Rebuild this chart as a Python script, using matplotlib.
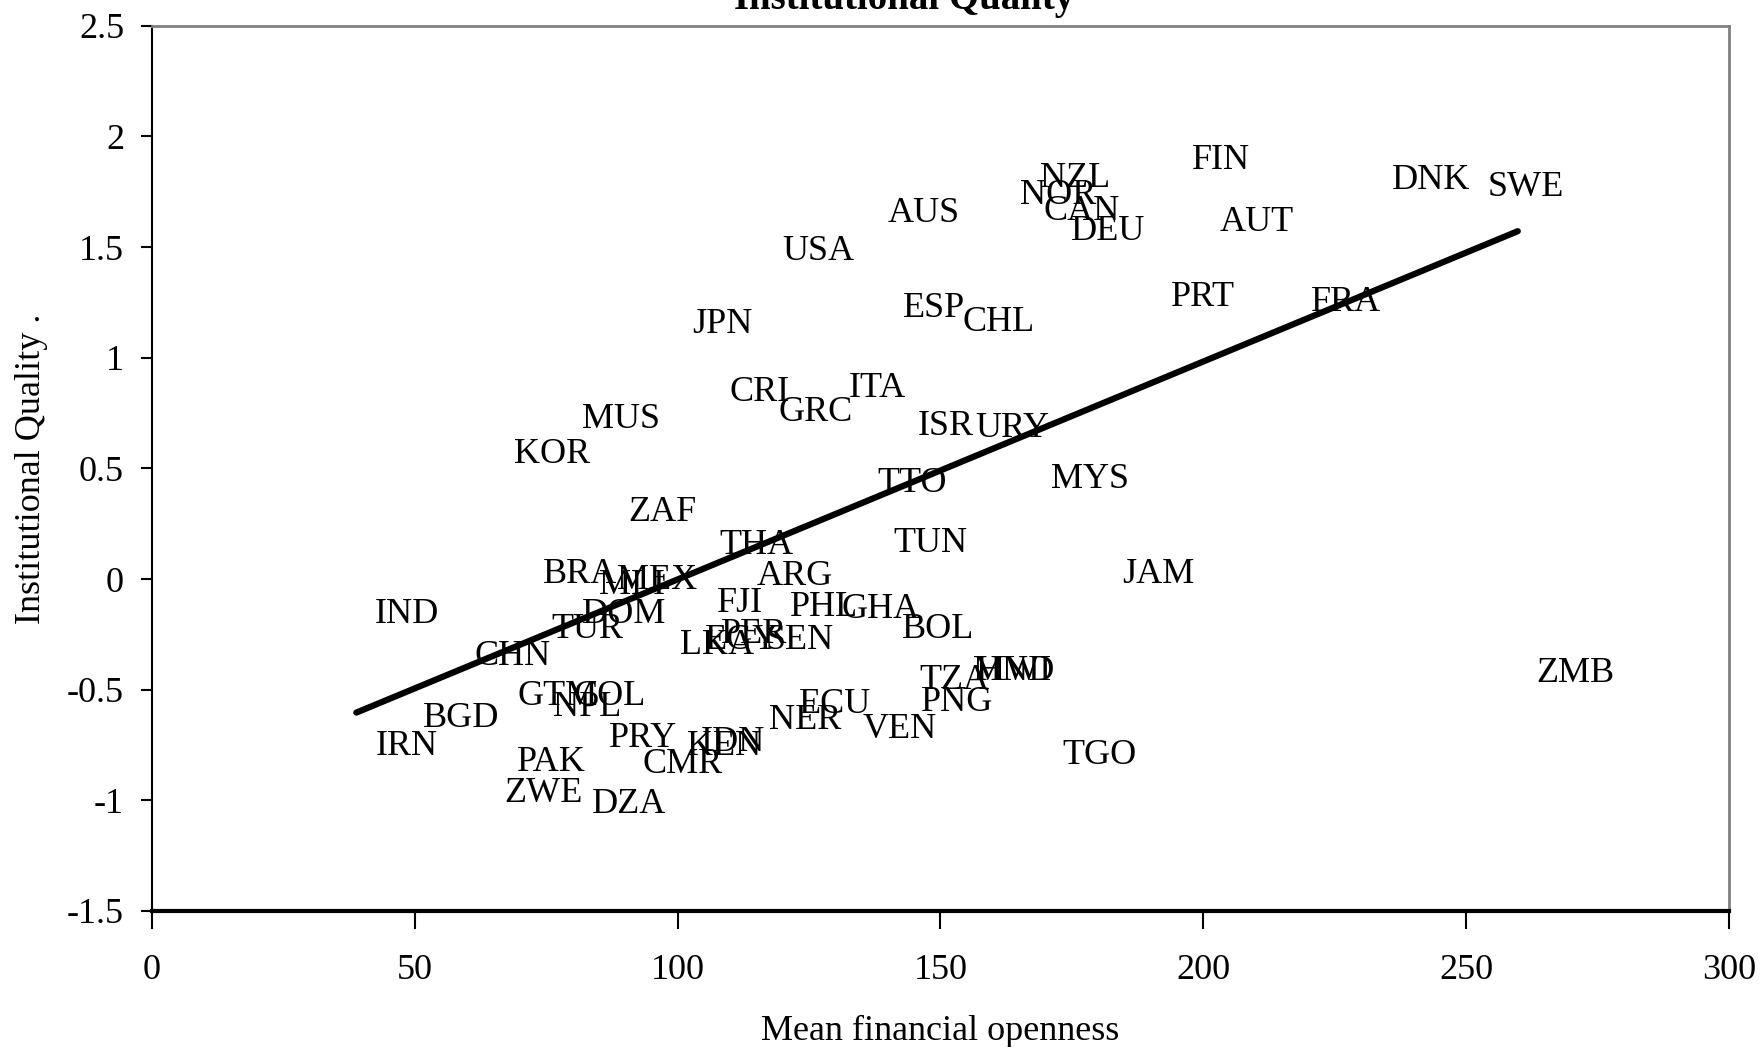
import numpy as np
import matplotlib
matplotlib.use('Agg')
import matplotlib.pyplot as plt

plt.rcParams['font.family'] = ['Liberation Serif', 'DejaVu Serif']

# 国家代码 / 金融开放度均值 / 制度质量
countries = ['NZL', 'NOR', 'CAN', 'DEU', 'FIN', 'DNK', 'SWE', 'AUT', 'AUS', 'USA',
             'PRT', 'FRA', 'ESP', 'CHL', 'JPN', 'ITA', 'CRI', 'GRC', 'MUS', 'ISR',
             'URY', 'KOR', 'MYS', 'TTO', 'ZAF', 'TUN', 'THA', 'JAM', 'BRA', 'MLI',
             'MEX', 'ARG', 'FJI', 'PHL', 'GHA', 'IND', 'DOM', 'TUR', 'BOL', 'PER',
             'EGY', 'SEN', 'LKA', 'CHN', 'MWI', 'HND', 'TZA', 'ZMB', 'GTM', 'COL',
             'NPL', 'ECU', 'PNG', 'BGD', 'NER', 'VEN', 'PRY', 'IDN', 'KEN', 'IRN',
             'TGO', 'PAK', 'CMR', 'ZWE', 'DZA']
openness = [165.5, 161.7, 166.1, 171.3, 194.4, 232.4, 250.6, 199.7, 136.6, 116.5,
            190.5, 217.0, 139.4, 150.7, 99.4, 129.2, 106.5, 115.7, 78.3, 142.2,
            153.1, 65.4, 167.6, 134.5, 87.2, 137.7, 104.6, 181.1, 71.0, 81.7,
            85.1, 111.6, 104.1, 118.0, 127.7, 38.9, 78.3, 72.5, 139.2, 104.8,
            101.8, 113.3, 97.1, 57.9, 152.7, 153.3, 142.6, 259.8, 66.1, 76.8,
            72.9, 119.7, 142.8, 48.1, 114.0, 131.7, 83.6, 100.9, 98.4, 39.1,
            169.8, 66.1, 89.8, 63.7, 80.2]
quality = [1.83, 1.75, 1.68, 1.59, 1.91, 1.82, 1.79, 1.63, 1.67, 1.50,
           1.29, 1.27, 1.24, 1.18, 1.17, 0.88, 0.86, 0.77, 0.74, 0.71,
           0.70, 0.58, 0.47, 0.45, 0.32, 0.18, 0.17, 0.04, 0.04, -0.01,
           0.01, 0.03, -0.09, -0.11, -0.12, -0.14, -0.14, -0.21, -0.21, -0.23,
           -0.26, -0.26, -0.28, -0.33, -0.40, -0.40, -0.44, -0.41, -0.51, -0.51,
           -0.56, -0.55, -0.54, -0.61, -0.62, -0.66, -0.70, -0.72, -0.74, -0.74,
           -0.78, -0.81, -0.82, -0.95, -1.00]

# 趋势线（线性）参数
trend_slope = 0.00985
trend_intercept = -0.987

fig = plt.figure(figsize=(17.63, 10.47), dpi=100)
ax = fig.add_axes([0.0861, 0.130, 0.8947, 0.8453])

for c, x, y in zip(countries, openness, quality):
    ax.annotate(c, (x, y), xytext=(13, -3), textcoords='offset points',
                ha='left', va='center', fontsize=26, color='black')

xs = np.array([min(openness), max(openness)])
ax.plot(xs, trend_slope * xs + trend_intercept, color='black', lw=4.5,
        solid_capstyle='round')

ax.set_xlim(0, 300)
ax.set_ylim(-1.5, 2.5)
ax.set_xticks(np.arange(0, 301, 50))
ax.set_yticks(np.arange(-1.5, 2.51, 0.5))
ax.set_yticklabels(['-1.5', '-1', '-0.5', '0', '0.5', '1', '1.5', '2', '2.5'])

for s in ['top', 'right']:
    ax.spines[s].set_color('#808080')
    ax.spines[s].set_linewidth(2)
ax.spines['left'].set_color('black')
ax.spines['left'].set_linewidth(1.5)
ax.spines['bottom'].set_color('black')
ax.spines['bottom'].set_linewidth(3)

ax.tick_params(axis='x', direction='out', length=13, width=1.5, pad=18, labelsize=26)
ax.tick_params(axis='y', direction='out', length=8, width=1.5, pad=12, labelsize=26)

ax.set_xlabel('Mean financial openness', fontsize=26, labelpad=20)
ax.set_ylabel('Institutional Quality .', fontsize=26, labelpad=14)

fig.text(0.513, 0.991, 'Institutional Quality', ha='center', va='baseline',
         fontsize=28, fontweight='bold')

fig.savefig('out.png', dpi=100)
